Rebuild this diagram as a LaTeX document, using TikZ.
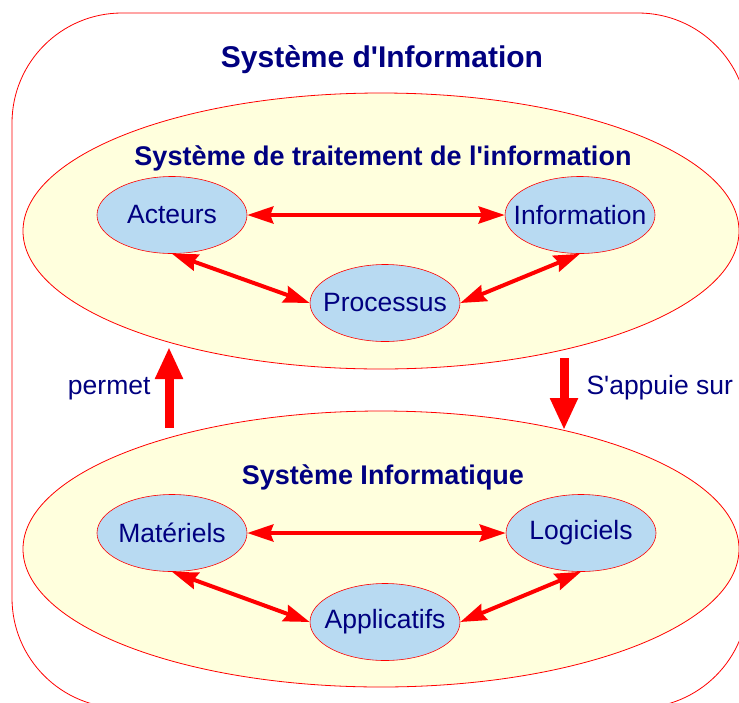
\documentclass[tikz,border=0pt]{standalone}
\usepackage{fontspec}
\setmainfont{Liberation Sans}
\usetikzlibrary {arrows.meta}
\usetikzlibrary {shapes.geometric}

\definecolor{navy}{RGB}{0,0,128}
\definecolor{paleyellow}{RGB}{255,255,221}
\definecolor{paleblue}{RGB}{184,218,242}

\begin{document}
\begin{tikzpicture}[x=1pt, y=-1pt, >=Stealth,
        system/.style={ellipse, draw=red, line width=0.8pt, fill=paleyellow,
            minimum width=716pt, minimum height=276pt, inner sep=0pt},
        element/.style={ellipse, draw=red, line width=0.6pt, fill=paleblue,
            minimum width=150pt, minimum height=77pt, inner xsep=-18pt, inner ysep=0pt,
            text=navy, font=\fontsize{26.5}{30}\selectfont},
        heading/.style={text=navy, font=\bfseries\fontsize{27}{30}\selectfont},
        caption/.style={text=navy, font=\fontsize{26.5}{30}\selectfont},
        link/.style={<->, red, line width=4pt,
            >={Stealth[length=26pt, width=17pt, inset=3pt]}},
        bigarrow/.style={-{Triangle[length=32pt, width=26pt]}, red, line width=9pt}]
    \useasboundingbox (0,0) rectangle (739,702);
    \clip (0,0) rectangle (739,702);

    \draw [red, line width=0.8pt, rounded corners=110pt] (12,13) rectangle (748,708);
    \node[heading, font=\bfseries\fontsize{30}{34}\selectfont] (si) at (382,60)
        {Système d\textquotesingle Information};

    % traitement de l'information
    \node[system] (sti) at (381,231) {};
    \node[heading] (stitle) at (383,158)
        {Système de traitement de l\textquotesingle information};
    \node[element] (act) at (172,215) {Acteurs};
    \node[element] (info) at (580,215) {Information};
    \node[element] (proc) at (385,303) {Processus};

    \draw [link] (act) -- (info);
    \draw [link] (act.south) -- (proc.west);
    \draw [link] (info.south) -- (proc.east);

    % informatique
    \node[system] (sinf) at (381,549) {};
    \node[heading] (sinftitle) at (383,477) {Système Informatique};
    \node[element] (mat) at (172,533) {Matériels};
    \node[element] (log) at (581,533) {Logiciels};
    \node[element] (app) at (385,622) {Applicatifs};

    \draw [link] (mat) -- (log);
    \draw [link] (mat.south) -- (app.west);
    \draw [link] (log.south) -- (app.east);

    % liens entre les deux
    \coordinate (pbas) at (169,428);
    \coordinate (phaut) at (169,347);
    \coordinate (ahaut) at (564,358);
    \coordinate (abas) at (564,430);
    \draw [bigarrow] (pbas) -- (phaut);
    \draw [bigarrow] (ahaut) -- (abas);
    \node[caption, anchor=east] (permet) at (154,389) {permet};
    \node[caption, anchor=west] (appui) at (583,388) {S\textquotesingle appuie sur};
\end{tikzpicture}
\end{document}
